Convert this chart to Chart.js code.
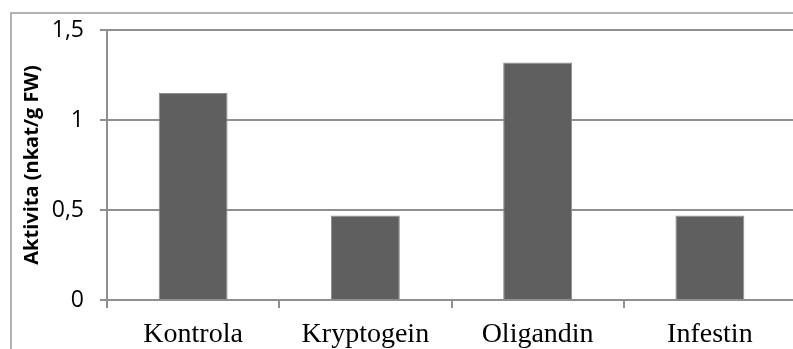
<!DOCTYPE html>
<html>
<head>
<meta charset="utf-8">
<script src="https://cdn.jsdelivr.net/npm/chart.js@4/dist/chart.umd.min.js"></script>
<style>
  html, body { margin: 0; padding: 0; background: #fff; overflow: hidden; }
  #wrap { position: absolute; left: 0; top: 0; width: 796px; height: 349px; }
</style>
</head>
<body>
<div id="wrap"><canvas id="c" width="796" height="349"></canvas></div>
<script>
// Enzyme activity per treatment
const categories = ['Kontrola', 'Kryptogein', 'Oligandin', 'Infestin'];
const activity = [1.15, 0.47, 1.32, 0.47];
const yTickValues = [0, 0.5, 1, 1.5];
const yTickLabels = ['0', '0,5', '1', '1,5'];
const yTitle = 'Aktivita (nkat/g FW)';

// Outer frame of the chart object
const framePlugin = {
  id: 'frame',
  beforeDraw(chart) {
    const ctx = chart.ctx;
    ctx.save();
    ctx.fillStyle = '#ffffff';
    ctx.fillRect(0, 0, chart.width, chart.height);
    ctx.strokeStyle = '#999999';
    ctx.lineWidth = 1.5;
    ctx.strokeRect(11, 13, 1000, 600);
    ctx.restore();
  }
};

new Chart(document.getElementById('c'), {
  type: 'bar',
  data: {
    labels: categories,
    datasets: [{
      data: activity,
      backgroundColor: '#5f5f5f',
      borderColor: '#8e8e8e',
      borderWidth: 1,
      categoryPercentage: 1,
      barPercentage: 0.4
    }]
  },
  options: {
    responsive: false,
    animation: false,
    devicePixelRatio: 1,
    layout: { padding: { top: 30, right: 0, left: 0, bottom: 0 } },
    plugins: { legend: { display: false }, tooltip: { enabled: false } },
    scales: {
      x: {
        offset: true,
        grid: {
          offset: true,
          drawOnChartArea: false,
          drawTicks: true,
          tickLength: 8,
          color: '#8f8f8f',
          lineWidth: 2
        },
        border: { display: true, color: '#8f8f8f', width: 2 },
        ticks: {
          color: '#000',
          padding: 10,
          maxRotation: 0,
          font: { family: '"Liberation Serif", "Times New Roman", serif', size: 28 }
        },
        afterFit(scale) { scale.height = 49; }
      },
      y: {
        min: 0,
        max: 1.5,
        afterBuildTicks(scale) {
          scale.ticks = yTickValues.map(v => ({ value: v }));
        },
        grid: {
          color: '#8f8f8f',
          lineWidth: 2,
          drawTicks: true,
          tickLength: 7
        },
        border: { display: true, color: '#8f8f8f', width: 2 },
        ticks: {
          color: '#000',
          padding: 16,
          font: { family: '"Open Sans", sans-serif', size: 23 },
          callback(value, index) {
            const i = yTickValues.indexOf(value);
            return i >= 0 ? yTickLabels[i] : '';
          }
        },
        title: {
          display: true,
          text: yTitle,
          color: '#000',
          padding: { top: 20, bottom: 0 },
          font: { family: '"Open Sans", sans-serif', size: 20, weight: 'bold' }
        },
        afterFit(scale) { scale.width = 107; }
      }
    }
  },
  plugins: [framePlugin]
});
</script>
</body>
</html>
